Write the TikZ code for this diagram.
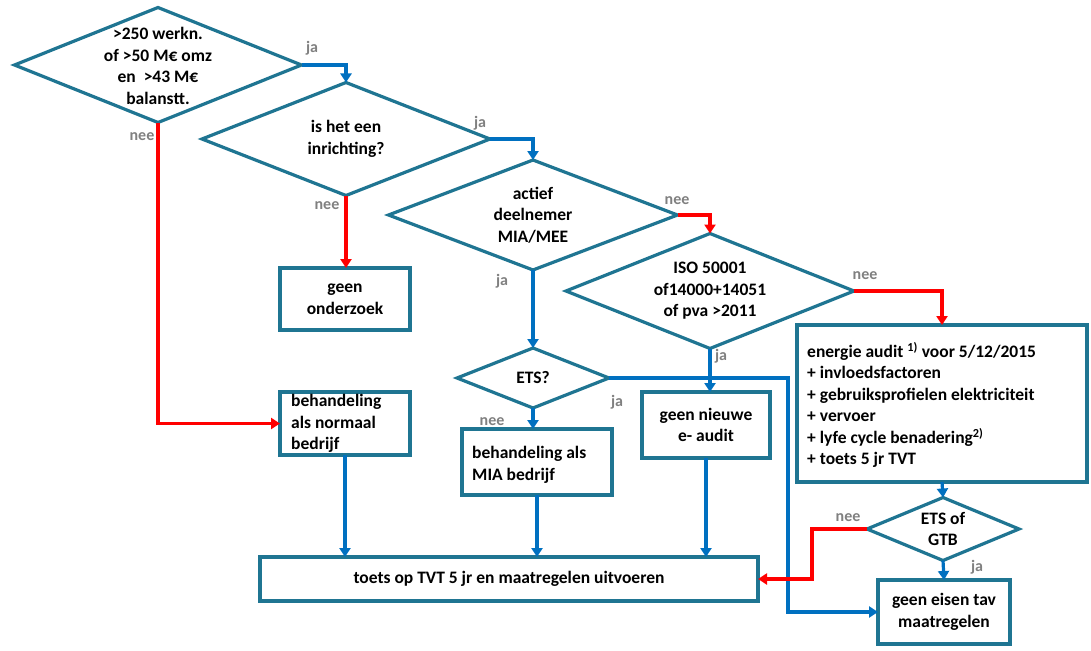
\documentclass[tikz,border=0pt]{standalone}
\usepackage{fontspec}
\setmainfont{Carlito}
\usetikzlibrary{shapes.geometric,arrows.meta}
\definecolor{frame}{RGB}{31,117,146}
\definecolor{conblue}{RGB}{0,112,192}
\definecolor{conred}{RGB}{255,0,0}
\definecolor{lblgray}{RGB}{128,128,128}
\tikzset{
  dia/.style={shape=diamond, draw=frame, line width=3.2pt, inner sep=0pt, outer sep=0pt, fill=white},
  box/.style={shape=rectangle, draw=frame, line width=3.2pt, inner sep=0pt, outer sep=0pt, fill=white},
  txt/.style={font=\fontsize{17.5}{21.5}\selectfont\bfseries, align=center, text=black, inner sep=0pt},
  ltxt/.style={font=\fontsize{17.5}{21.5}\selectfont\bfseries, align=left, text=black, inner sep=0pt, anchor=west},
  lbl/.style={font=\fontsize{16}{18}\selectfont\bfseries, text=lblgray, inner sep=0pt},
  bconn/.style={draw=conblue, line width=3.2pt, -{Triangle[length=9pt,width=11pt]}},
  rconn/.style={draw=conred, line width=3.2pt, -{Triangle[length=9pt,width=11pt]}},
}
\begin{document}
\begin{tikzpicture}[x=1pt,y=-1pt]
\useasboundingbox (0,0) rectangle (1091,650);

% diamonds
\node[dia, minimum width=287pt, minimum height=115pt] (d1) at (158,65) {};
\node[txt] (t1) at (158,66) {>250 werkn.\\of >50 M€ omz\\en \ >43 M€\\balanstt.};
\node[dia, minimum width=288pt, minimum height=113pt] (d2) at (346,139) {};
\node[txt] (t2) at (346,139) {is het een\\inrichting?};
\node[dia, minimum width=289pt, minimum height=110pt] (d3) at (533,215) {};
\node[txt] (t3) at (533,215) {actief\\deelnemer\\MIA/MEE};
\node[dia, minimum width=288pt, minimum height=115pt] (d4) at (710,291) {};
\node[txt] (t4) at (710,291) {ISO 50001\\of14000+14051\\of pva >2011};
\node[dia, minimum width=152pt, minimum height=60pt] (d6) at (533,378) {};
\node[txt] (t6) at (533,378) {ETS?};
\node[dia, minimum width=152pt, minimum height=63pt] (d5) at (943,529) {};
\node[txt] (t5) at (943,529) {ETS of\\GTB};

% boxes
\node[box, minimum width=130pt, minimum height=62pt] (ond) at (345,299) {};
\node[txt] (tond) at (345,299) {geen\\onderzoek};
\node[box, minimum width=130pt, minimum height=63pt] (norm) at (345,423.5) {};
\node[ltxt] (tnorm) at (291,423.5) {behandeling\\als normaal\\bedrijf};
\node[box, minimum width=150pt, minimum height=66pt] (mia) at (537,462) {};
\node[ltxt] (tmia) at (472,465) {behandeling als\\MIA bedrijf};
\node[box, minimum width=128pt, minimum height=66pt] (nieuw) at (706,425) {};
\node[txt] (tnieuw) at (706,425) {geen nieuwe\\e- audit};
\node[box, minimum width=290pt, minimum height=157pt] (audit) at (942,403.5) {};
\node[ltxt] (taudit) at (807,405) {energie audit \textsuperscript{1)} voor 5/12/2015\\+ invloedsfactoren\\+ gebruiksprofielen elektriciteit\\+ vervoer\\+ lyfe cycle benadering\textsuperscript{2)}\\+ toets 5 jr TVT};
\node[box, minimum width=498pt, minimum height=44pt] (toets) at (509,579) {};
\node[txt] (ttoets) at (509,579) {toets op TVT 5 jr en maatregelen uitvoeren};
\node[box, minimum width=132pt, minimum height=64pt] (eisen) at (944,612) {};
\node[txt] (teisen) at (944,612) {geen eisen tav\\maatregelen};

% helper coordinates
\coordinate (c1) at (812,579);
\coordinate (c2) at (788,500);

% connectors
\draw[bconn] (d1.east) -| (d2.north);
\draw[rconn] (d1.south) |- (norm.west);
\draw[bconn] (d2.east) -| (d3.north);
\draw[rconn] (d2.south) -- (d2.south |- ond.north);
\draw[rconn] (d3.east) -| (d4.north);
\draw[bconn] (d3.south) -- (d6.north);
\draw[rconn] (d4.east) -| (audit.north);
\draw[bconn] (d4.south) -- (d4.south |- nieuw.north);
\draw[bconn] (d6.south) -- (d6.south |- mia.north);
\draw[bconn] (d6.east) -| (c2) |- (eisen.west);
\draw[bconn] (audit.south) -- (d5.north);
\draw[bconn] (d5.south) -- (eisen.north);
\draw[rconn] (d5.west) -| (c1) -- (toets.east);
\draw[bconn] (norm.south) -- (norm.south |- toets.north);
\draw[bconn] (mia.south) -- (mia.south |- toets.north);
\draw[bconn] (nieuw.south) -- (nieuw.south |- toets.north);

% labels
\node[lbl] (l1) at (312,48) {ja};
\node[lbl] (l2) at (142,137) {nee};
\node[lbl] (l3) at (480,123) {ja};
\node[lbl] (l4) at (327,206) {nee};
\node[lbl] (l5) at (677,201) {nee};
\node[lbl] (l6) at (502,281) {ja};
\node[lbl] (l7) at (865,276) {nee};
\node[lbl] (l8) at (721,356) {ja};
\node[lbl] (l9) at (492,422) {nee};
\node[lbl] (l10) at (617,402) {ja};
\node[lbl] (l11) at (848,518) {nee};
\node[lbl] (l12) at (977,567) {ja};
\end{tikzpicture}
\end{document}
